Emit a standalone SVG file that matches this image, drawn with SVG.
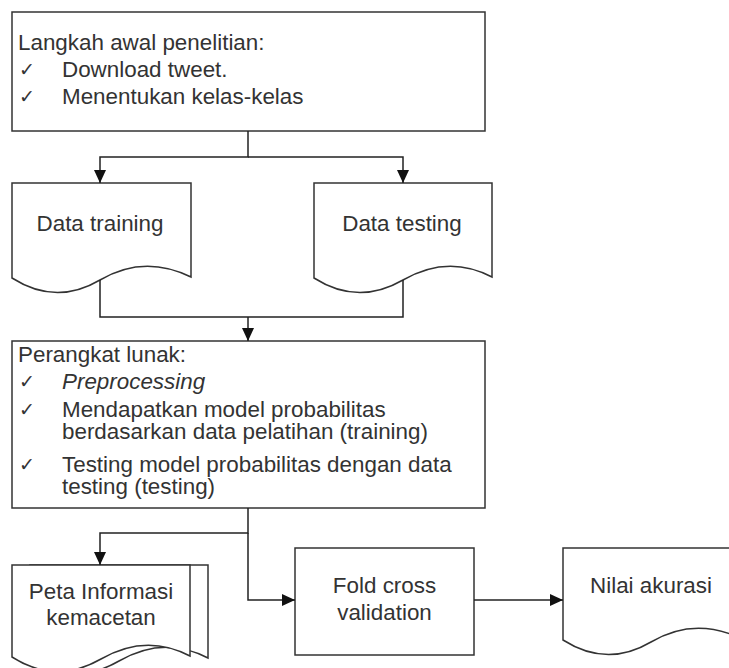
<svg xmlns="http://www.w3.org/2000/svg" width="729" height="668" viewBox="0 0 729 668">
<style>
.shape{fill:#fff;stroke:#333;stroke-width:1.5}
.t{font-family:"Liberation Sans",Arial,sans-serif;font-size:22.4px;fill:#333}
.c{text-anchor:middle}
.ck{font-family:"DejaVu Sans",sans-serif;font-size:19px;fill:#333}
.line{fill:none;stroke:#222;stroke-width:1.5}
</style>
<defs>
<marker id="arr" markerUnits="userSpaceOnUse" markerWidth="14" markerHeight="14" refX="13" refY="6" orient="auto">
<path d="M0,0 L13,6 L0,12 Z" fill="#111"/>
</marker>
</defs>
<rect width="729" height="668" fill="#fff"/>
<g id="langkah">
<rect class="shape" x="12" y="12" width="473" height="119"/>
<text class="t" x="18" y="50">Langkah awal penelitian:</text>
<text class="ck" x="19" y="76">✓</text>
<text class="t" x="62" y="77">Download tweet.</text>
<text class="ck" x="19" y="103">✓</text>
<text class="t" x="62" y="104">Menentukan kelas-kelas</text>
</g>
<g id="data-training">
<path class="shape" d="M12,278 Q56,306 100,280 T191,277 V183 H12 Z"/>
<text class="t c" x="100" y="231">Data training</text>
</g>
<g id="data-testing">
<path class="shape" d="M314,278 Q358,306 403,280 T492,277 V183 H314 Z"/>
<text class="t c" x="402" y="231">Data testing</text>
</g>
<g id="perangkat">
<rect class="shape" x="12" y="341" width="473" height="167"/>
<text class="t" x="18" y="362">Perangkat lunak:</text>
<text class="ck" x="19" y="388">✓</text>
<text class="t" x="62" y="389" font-style="italic">Preprocessing</text>
<text class="ck" x="19" y="416">✓</text>
<text class="t" x="62" y="417">Mendapatkan model probabilitas</text>
<text class="t" x="62" y="439">berdasarkan data pelatihan (training)</text>
<text class="ck" x="19" y="471">✓</text>
<text class="t" x="62" y="472">Testing model probabilitas dengan data</text>
<text class="t" x="62" y="494">testing (testing)</text>
</g>
<g id="peta">
<path class="shape" d="M30,659 Q74,687 119,661 T208,658 V565 H30 Z"/>
<path class="shape" d="M12,657 Q56,685 101,659 T190,656 V565 H12 Z"/>
<text class="t c" x="101" y="599">Peta Informasi</text>
<text class="t c" x="101" y="625">kemacetan</text>
</g>
<g id="fold">
<rect class="shape" x="295" y="548" width="179" height="107"/>
<text class="t c" x="384.5" y="593">Fold cross</text>
<text class="t c" x="384.5" y="620">validation</text>
</g>
<g id="nilai">
<path class="shape" d="M563,640 Q607,668 651,642 T742,639 V548 H563 Z"/>
<text class="t c" x="651" y="593">Nilai akurasi</text>
</g>
<g id="connectors">
<path class="line" d="M248,131 V157 H100 V183" marker-end="url(#arr)"/>
<path class="line" d="M248,157 H403 V183" marker-end="url(#arr)"/>
<path class="line" d="M100,280 V317 H403 V280"/>
<path class="line" d="M248,317 V341" marker-end="url(#arr)"/>
<path class="line" d="M248,508 V533 H100 V565" marker-end="url(#arr)"/>
<path class="line" d="M248,533 V600 H295" marker-end="url(#arr)"/>
<path class="line" d="M474,600 H563" marker-end="url(#arr)"/>
</g>
</svg>
